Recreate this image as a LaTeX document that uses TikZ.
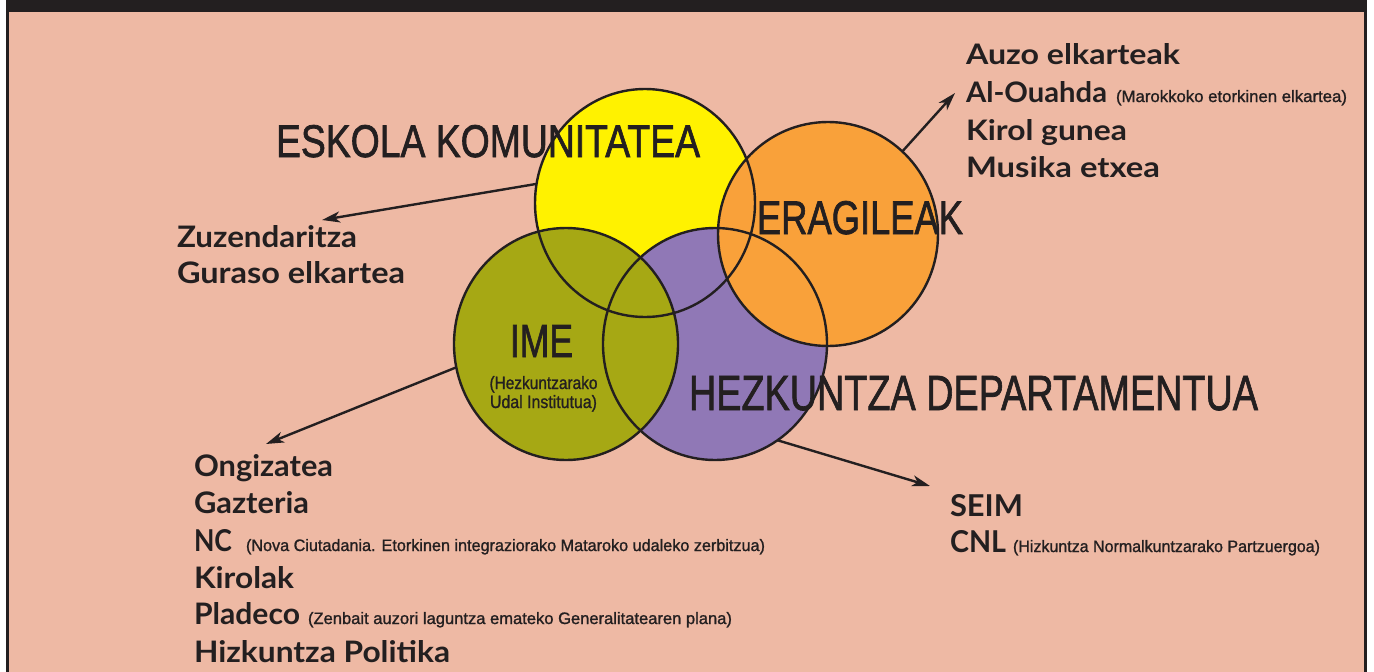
\documentclass[tikz,border=0pt]{standalone}
\usepackage{fontspec}
\usepackage{graphicx}
\setmainfont{Liberation Sans}
\newfontfamily\listfont{Lato}
\newfontfamily\ttlfont[FakeBold=1.6]{Liberation Sans}
\newfontfamily\smfont[FakeBold=1.2]{Liberation Sans}
\usetikzlibrary{shapes.geometric,arrows.meta}
\definecolor{bgsalmon}{HTML}{EEB9A4}
\definecolor{ink}{HTML}{231F20}
\definecolor{cyellow}{HTML}{FFF200}
\definecolor{corange}{HTML}{F9A13A}
\definecolor{cpurple}{HTML}{9078B6}
\definecolor{colive}{HTML}{A6A814}
\newcommand{\fitbox}[3]{\resizebox{#1pt}{#2pt}{#3}}
\newcommand{\lstb}[1]{{\listfont\bfseries #1}}
\newcommand{\ttl}[1]{{\ttlfont #1}}
\newcommand{\sml}[1]{{\smfont #1}}
\tikzset{
  circfill/.style={ellipse, inner sep=0pt, outer sep=0pt, draw=none},
  ring/.style={draw=ink, line width=2.4pt},
  conn/.style={draw=ink, line width=2.4pt, -{Stealth[length=18pt,width=11pt,inset=5pt]}},
  lbl/.style={anchor=base west, inner sep=0pt, outer sep=0pt, text=ink},
  lblc/.style={anchor=base, inner sep=0pt, outer sep=0pt, text=ink},
}
\begin{document}
\begin{tikzpicture}[x=1pt,y=-1pt]
\useasboundingbox (0,0) rectangle (1374,672);
\fill[white] (0,0) rectangle (1374,672);
\fill[ink] (6,0) rectangle (1367,672);
\fill[bgsalmon] (9,12) rectangle (1364,672);

% circle fills (layer order)
\node[circfill, fill=cyellow, minimum width=220pt, minimum height=228pt] (yel) at (645,203) {};
\node[circfill, fill=cpurple, minimum width=224pt, minimum height=232pt] (pur) at (715,344) {};
\node[circfill, fill=colive, minimum width=224pt, minimum height=232pt] (olv) at (566,344) {};
\node[circfill, fill=corange, minimum width=220pt, minimum height=224pt] (org) at (828,234) {};
% outlines on top
\draw[ring] (yel.center) ellipse [x radius=110pt, y radius=114pt];
\draw[ring] (pur.center) ellipse [x radius=112pt, y radius=116pt];
\draw[ring] (olv.center) ellipse [x radius=112pt, y radius=116pt];
\draw[ring] (org.center) ellipse [x radius=110pt, y radius=112pt];

% titles
\node[lbl] (esk) at (276,157) {\fitbox{424}{32}{\ttl{ESKOLA KOMUNITATEA}}};
\node[lbl] (erg) at (757,234) {\fitbox{206}{33}{\ttl{ERAGILEAK}}};
\node[lbl] (ime) at (510,357) {\fitbox{63}{32}{\ttl{IME}}};
\node[lbl] (hez) at (689,410) {\fitbox{569}{34}{\ttl{HEZKUNTZA DEPARTAMENTUA}}};
\node[lblc] (imes1) at (543.5,389) {\fitbox{108}{13}{\sml{(Hezkuntzarako}}};
\node[lblc] (imes2) at (543.5,408) {\fitbox{107}{13}{\sml{Udal Institutua)}}};

% top right list
\node[lbl] (auzo) at (966,64) {\fitbox{214}{21}{\lstb{Auzo elkarteak}}};
\node[lbl] (alo) at (966,102) {\fitbox{141}{21}{\lstb{Al-Ouahda}}};
\node[lbl] (alos) at (1116,102) {\fitbox{231}{12}{\sml{(Marokkoko etorkinen elkartea)}}};
\node[lbl] (kirg) at (966,140) {\fitbox{161}{21}{\lstb{Kirol gunea}}};
\node[lbl] (mus) at (966,177) {\fitbox{194}{21}{\lstb{Musika etxea}}};

% left list
\node[lbl] (zuz) at (177,247) {\fitbox{180}{22}{\lstb{Zuzendaritza}}};
\node[lbl] (gur) at (177,283) {\fitbox{228}{22}{\lstb{Guraso elkartea}}};

% bottom left list
\node[lbl] (ong) at (194,476) {\fitbox{139}{22}{\lstb{Ongizatea}}};
\node[lbl] (gaz) at (194,513) {\fitbox{115}{22}{\lstb{Gazteria}}};
\node[lbl] (nc) at (194,551) {\fitbox{38}{22}{\lstb{NC}}};
\node[lbl] (ncs) at (246,551) {\fitbox{519}{12}{\sml{(Nova Ciutadania. Etorkinen integraziorako Mataroko udaleko zerbitzua)}}};
\node[lbl] (kir) at (194,588) {\fitbox{100}{22}{\lstb{Kirolak}}};
\node[lbl] (pla) at (194,624) {\fitbox{106}{22}{\lstb{Pladeco}}};
\node[lbl] (plas) at (308,624) {\fitbox{424}{12}{\sml{(Zenbait auzori laguntza emateko Generalitatearen plana)}}};
\node[lbl] (hiz) at (194,662) {\fitbox{256}{22}{\lstb{Hizkuntza Politika}}};

% bottom right list
\node[lbl] (seim) at (950,516) {\fitbox{73}{22}{\lstb{SEIM}}};
\node[lbl] (cnl) at (950,552) {\fitbox{56}{22}{\lstb{CNL}}};
\node[lbl] (cnls) at (1013,552) {\fitbox{307}{12}{\sml{(Hizkuntza Normalkuntzarako Partzuergoa)}}};

% arrow tips
\coordinate (tz1) at (322,220);
\coordinate (tz2) at (266,444);
\coordinate (tz3) at (955,93);
\coordinate (tz4) at (930,486);

\draw[conn] (yel.170) -- (tz1);
\draw[conn] (olv.192) -- (tz2);
\draw[conn] (org.48) -- (tz3);
\draw[conn] (pur.-57) -- (tz4);
\end{tikzpicture}
\end{document}
